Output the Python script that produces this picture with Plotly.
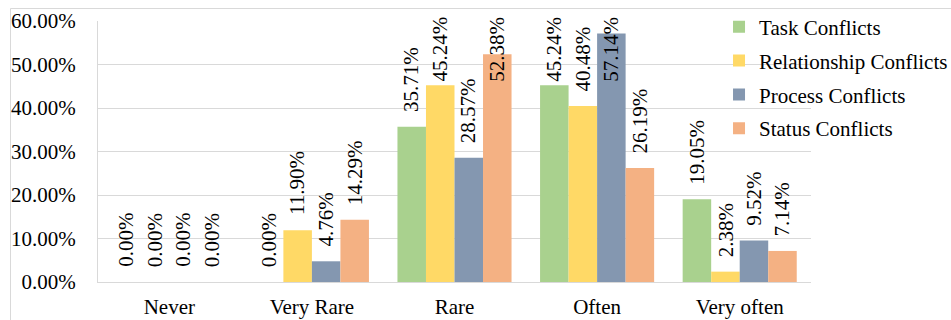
import plotly.graph_objects as go

# Frequency categories and share of respondents for each conflict type (%)
categories = ["Never", "Very Rare", "Rare", "Often", "Very often"]
task = [0.00, 0.00, 35.71, 45.24, 19.05]
relationship = [0.00, 11.90, 45.24, 40.48, 2.38]
process = [0.00, 4.76, 28.57, 57.14, 9.52]
status = [0.00, 14.29, 52.38, 26.19, 7.14]
y_ticks = [0, 10, 20, 30, 40, 50, 60]

series = [
    ("Task Conflicts", task, "#A9D18E"),
    ("Relationship Conflicts", relationship, "#FFD966"),
    ("Process Conflicts", process, "#8497B0"),
    ("Status Conflicts", status, "#F4B183"),
]

FONT = "Liberation Serif, Times New Roman, serif"
BARGAP = 0.2
n_series = len(series)
bar_w = (1 - BARGAP) / n_series

fig = go.Figure()
annotations = []
for k, (name, vals, color) in enumerate(series):
    fig.add_trace(go.Bar(
        x=categories, y=vals, name=name, legendgroup=name,
        marker=dict(color=color, line=dict(width=0)),
    ))
    offset = (k - (n_series - 1) / 2) * bar_w
    for i, v in enumerate(vals):
        # value labels sit just above the bar, held below the top of the plot area
        annotations.append(dict(
            x=i + offset, y=min(v + 2.95, 45.55), xref="x", yref="y",
            text=f"{v:.2f}%", textangle=-90, showarrow=False,
            xanchor="center", yanchor="bottom",
            font=dict(family=FONT, size=21, color="black"),
        ))

fig.update_layout(
    width=951, height=320,
    margin=dict(l=98, r=140, t=21, b=38, autoexpand=False),
    paper_bgcolor="white", plot_bgcolor="white",
    barmode="group", bargap=BARGAP, bargroupgap=0,
    font=dict(family=FONT, size=21, color="black"),
    showlegend=True,
    legend=dict(
        x=0.871, xanchor="left", y=1.055, yanchor="top",
        font=dict(family=FONT, size=21, color="black"),
        tracegroupgap=3.5, bgcolor="rgba(0,0,0,0)",
    ),
    annotations=annotations,
    shapes=[dict(
        type="rect", xref="paper", yref="paper",
        x0=(10.5 - 98) / 713, x1=(960 - 98) / 713,
        y0=-0.5, y1=1 + 12.5 / 261,
        line=dict(color="#d9d9d9", width=1), fillcolor="rgba(0,0,0,0)",
        layer="below",
    )],
)
fig.update_xaxes(
    type="category", showgrid=False, zeroline=False, automargin=False,
    showline=True, linecolor="#d9d9d9", linewidth=1.3,
    ticks="", ticklabelstandoff=6,
    tickfont=dict(family=FONT, size=21, color="black"),
)
fig.update_yaxes(
    range=[0, 60], tickvals=y_ticks, automargin=False,
    ticktext=[f"{t:.2f}%" for t in y_ticks],
    showgrid=True, gridcolor="#d9d9d9", gridwidth=1.3,
    zeroline=True, zerolinecolor="#d9d9d9", zerolinewidth=1.3,
    showline=True, linecolor="#d9d9d9", linewidth=1.3,
    ticks="", ticklabelstandoff=17,
    tickfont=dict(family=FONT, size=21, color="black"),
)

fig.write_html("out.html")
